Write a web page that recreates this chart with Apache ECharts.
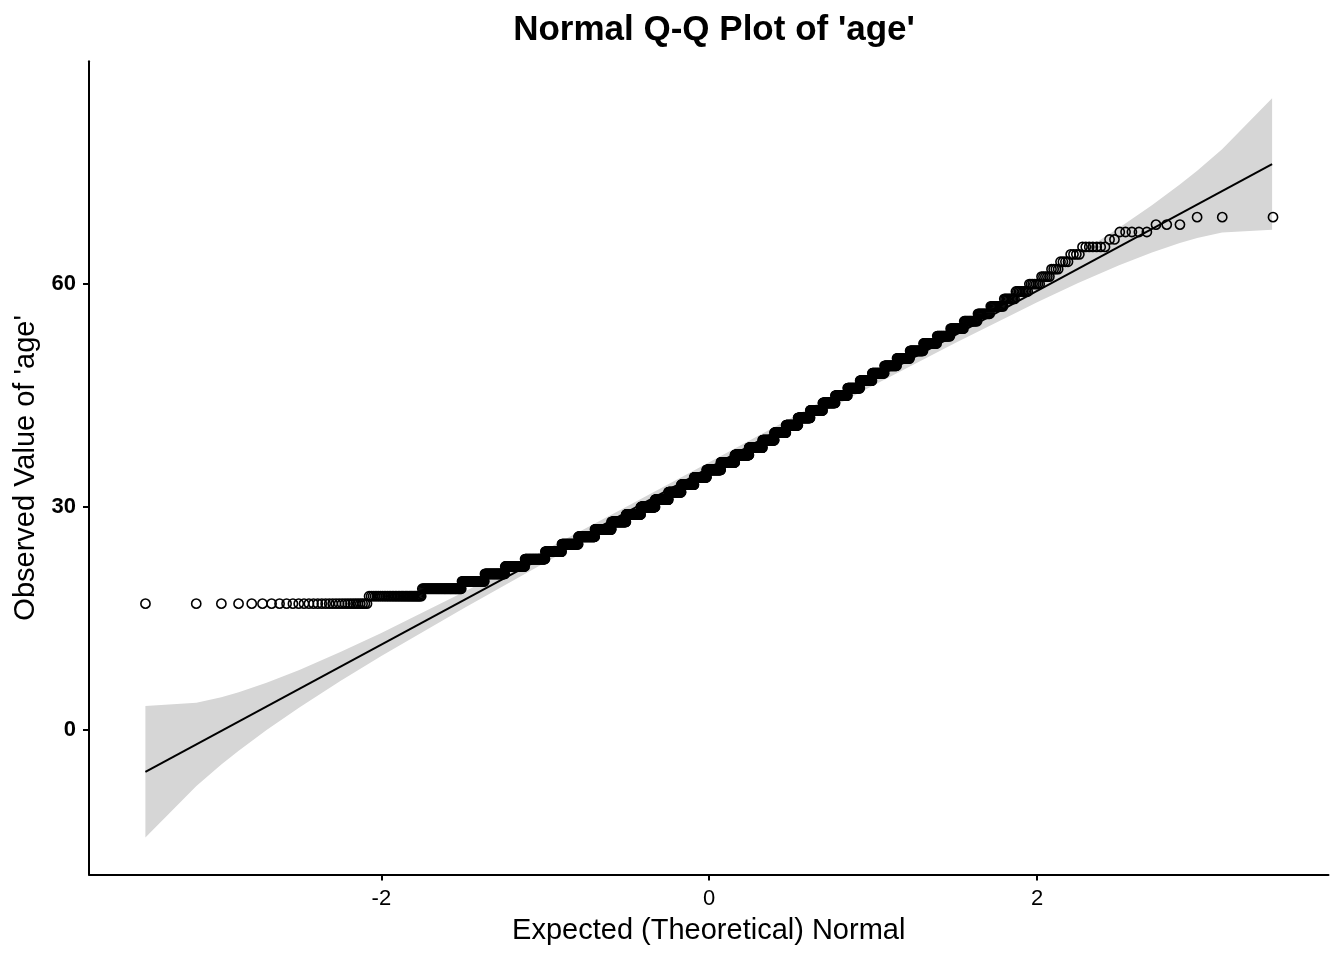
<!DOCTYPE html>
<html><head><meta charset="utf-8">
<script src="https://cdn.jsdelivr.net/npm/echarts@6/dist/echarts.min.js"></script>
<style>html,body{margin:0;padding:0;background:#fff}#c{width:1344px;height:960px}</style>
</head><body><div id="c"></div>
<script>
// Observed ages (integer values) and how many observations have each age
const ages = [17,18,19,20,21,22,23,24,25,26,27,28,29,30,31,32,33,34,35,36,37,38,39,40,41,42,43,44,45,46,47,48,49,50,51,52,53,54,55,56,57,58,59,60,61,62,63,64,65,66,67,68,69];
const counts = [32,36,44,34,36,41,48,44,48,52,56,52,55,56,53,52,53,52,59,58,58,54,46,44,44,43,42,40,37,35,32,30,28,27,25,23,20,18,16,13,12,9,9,7,5,4,4,4,7,2,5,3,3];
// Reference line end points (theoretical, observed)
const lineZ = [-3.439, 3.433];
const lineY = [-5.62, 76.15];
// Confidence band
const bandZ    = [-3.439,-3.128,-2.976,-2.87,-2.7,-2.5,-2.25,-2.0,-1.5,-1.0,-0.5,0,0.5,1.0,1.5,2.0,2.25,2.5,2.7,2.87,2.976,3.128,3.433];
const bandLow  = [-14.46,-7.52,-4.63,-2.78,-0.01,3.02,6.58,9.94,16.36,22.55,28.61,34.59,40.51,46.35,52.06,57.54,60.13,62.52,64.25,65.52,66.19,66.92,67.31];
const bandHigh = [3.22,3.68,4.41,5.08,6.35,8.08,10.48,13.06,18.54,24.25,30.09,36.01,41.99,48.05,54.24,60.66,64.03,67.58,70.61,73.38,75.23,78.12,84.99];
const xTicks = [-2, 0, 2];
const yTicks = [0, 30, 60];

function qnorm(p){
  const a=[-3.969683028665376e+01,2.209460984245205e+02,-2.759285104469687e+02,1.383577518672690e+02,-3.066479806614716e+01,2.506628277459239e+00];
  const b=[-5.447609879822406e+01,1.615858368580409e+02,-1.556989798598866e+02,6.680131188771972e+01,-1.328068155288572e+01];
  const c=[-7.784894002430293e-03,-3.223964580411365e-01,-2.400758277161838e+00,-2.549732539343734e+00,4.374664141464968e+00,2.938163982698783e+00];
  const d=[7.784695709041462e-03,3.224671290700398e-01,2.445134137142996e+00,3.754408661907416e+00];
  const pl=0.02425, ph=1-pl; let q,r;
  if(p<pl){q=Math.sqrt(-2*Math.log(p));return (((((c[0]*q+c[1])*q+c[2])*q+c[3])*q+c[4])*q+c[5])/((((d[0]*q+d[1])*q+d[2])*q+d[3])*q+1);}
  if(p<=ph){q=p-0.5;r=q*q;return (((((a[0]*r+a[1])*r+a[2])*r+a[3])*r+a[4])*r+a[5])*q/(((((b[0]*r+b[1])*r+b[2])*r+b[3])*r+b[4])*r+1);}
  q=Math.sqrt(-2*Math.log(1-p));return -(((((c[0]*q+c[1])*q+c[2])*q+c[3])*q+c[4])*q+c[5])/((((d[0]*q+d[1])*q+d[2])*q+d[3])*q+1);
}

// sorted sample -> (theoretical quantile, observed)
const sample = [];
ages.forEach((a,i)=>{ for(let k=0;k<counts[i];k++) sample.push(a); });
const n = sample.length;
const points = sample.map((v,i)=>[qnorm((i+0.5)/n), v]);

const FONT = "'Liberation Sans', Arial, Helvetica, sans-serif";
const chart = echarts.init(document.getElementById('c'), null, {renderer:'canvas'});
chart.setOption({
  animation:false,
  backgroundColor:'#ffffff',
  title:{text:"Normal Q-Q Plot of 'age'", left:709, top:8, textAlign:'center',
    textStyle:{fontFamily:FONT, fontSize:35, fontWeight:'bold', color:'#000'}},
  grid:{left:89, right:15.5, top:61.3, bottom:85.6, containLabel:false},
  xAxis:{type:'value', min:-3.783, max:3.777,
    axisLine:{show:true, onZero:false, lineStyle:{color:'#000', width:2}},
    axisTick:{show:true, customValues:xTicks, length:6, lineStyle:{color:'#000', width:2}},
    axisLabel:{customValues:xTicks, fontFamily:FONT, fontSize:22, color:'#000', margin:14},
    splitLine:{show:false},
    name:'Expected (Theoretical) Normal', nameLocation:'middle', nameGap:42,
    nameTextStyle:{fontFamily:FONT, fontSize:29, color:'#000'}},
  yAxis:{type:'value', min:-19.43, max:89.97,
    axisLine:{show:true, onZero:false, lineStyle:{color:'#000', width:2}},
    axisTick:{show:true, customValues:yTicks, length:6, lineStyle:{color:'#000', width:2}},
    axisLabel:{customValues:yTicks, fontFamily:FONT, fontSize:22, fontWeight:'bold', color:'#000', margin:13},
    splitLine:{show:false},
    name:"Observed Value of 'age'", nameLocation:'middle', nameGap:48, nameRotate:90,
    nameTextStyle:{fontFamily:FONT, fontSize:29, color:'#000'}},
  series:[
    {type:'custom', silent:true, z:1, clip:true,
     data: bandZ.map((z,i)=>[z,bandLow[i],bandHigh[i]]),
     encode:{x:0, y:[1,2]},
     renderItem:function(params, api){
       if(params.dataIndex!==0) return null;
       const pts=[];
       for(let i=0;i<bandZ.length;i++) pts.push(api.coord([bandZ[i], bandHigh[i]]));
       for(let i=bandZ.length-1;i>=0;i--) pts.push(api.coord([bandZ[i], bandLow[i]]));
       return {type:'polygon', shape:{points:pts}, style:{fill:'#d6d6d6', stroke:null}};
     }},
    {type:'line', z:2, silent:true, symbol:'none', data: lineZ.map((z,i)=>[z,lineY[i]]),
     lineStyle:{color:'#000', width:2}},
    {type:'scatter', z:3, silent:true, large:false, symbol:'circle', symbolSize:9.2, data:points,
     itemStyle:{color:'rgba(0,0,0,0)', borderColor:'#000', borderWidth:1.6, opacity:1}}
  ]
});
</script>
</body></html>
